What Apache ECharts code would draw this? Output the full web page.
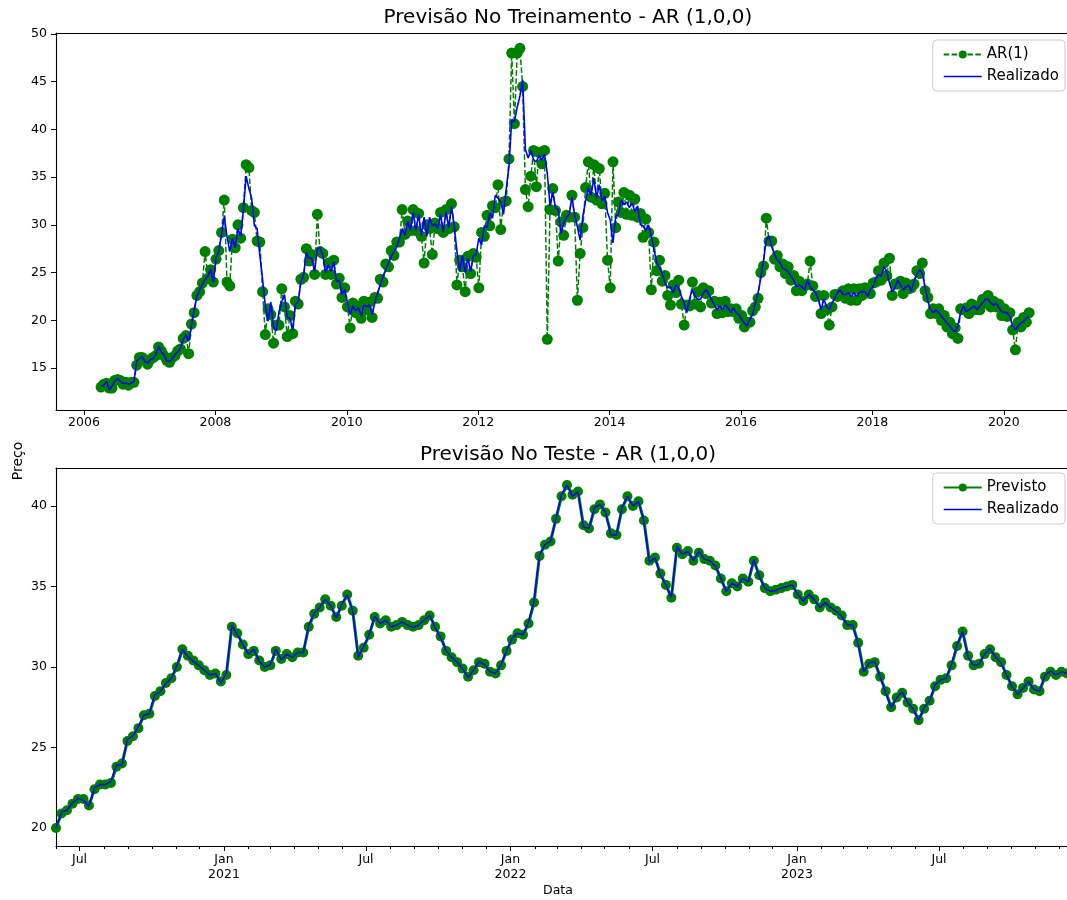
<!DOCTYPE html>
<html>
<head>
<meta charset="utf-8">
<script src="https://cdn.jsdelivr.net/npm/echarts@6.0.0/dist/echarts.min.js"></script>
<style>
  html, body { margin: 0; padding: 0; background: #ffffff; }
  #chart { width: 1067px; height: 900px; }
</style>
</head>
<body>
<div id="chart"></div>
<script>
// ---- Training period: semi-monthly observations, fractional years ----
const TRAIN_START = 2006.26;      // first observation (year)
const TRAIN_STEP = 1 / 24;        // half a month

const trainRealizado = [
  13.1,13.2,13.6,12.7,13.1,13.6,13.9,13.6,13.4,13.4,
  13.3,13.4,13.6,15.7,16.0,16.2,15.7,15.5,15.9,16.0,
  16.4,17.3,16.7,16.4,15.7,15.7,16.0,16.4,16.7,17.1,
  18.0,18.5,17.8,19.4,21.1,22.5,23.2,23.7,24.3,24.6,
  25.4,24.0,26.6,27.2,29.0,30.9,28.8,27.2,28.6,27.6,
  29.6,28.8,31.6,35.1,33.8,32.8,29.9,29.6,26.8,24.3,
  21.5,19.9,21.9,19.3,18.9,20.9,22.0,22.7,20.3,20.2,
  19.0,21.6,22.0,24.0,24.8,27.1,26.5,26.5,25.1,27.5,
  27.6,26.8,25.0,25.8,25.1,26.1,24.1,24.2,22.7,23.2,
  21.8,20.6,21.5,21.0,21.3,20.5,21.6,21.4,21.6,20.6,
  21.8,22.9,23.7,24.6,25.3,26.0,26.7,27.2,27.7,28.6,
  29.6,28.9,30.4,29.4,31.3,29.4,31.1,28.9,30.8,28.8,
  30.8,29.9,30.1,29.6,31.1,29.2,31.4,29.7,31.9,29.9,
  27.2,25.1,26.8,25.0,26.5,25.1,26.8,26.9,28.6,27.9,
  29.9,29.7,31.2,30.7,33.1,32.8,32.4,31.1,33.8,36.1,
  41.0,40.8,42.3,43.5,45.2,37.9,37.0,37.8,36.8,36.6,
  37.3,36.8,37.4,35.4,32.0,33.4,31.8,31.6,29.1,30.2,
  30.8,31.1,32.9,31.0,29.8,28.4,30.9,32.5,33.9,33.1,
  34.9,32.8,34.2,32.5,33.0,31.3,30.5,28.1,30.9,31.1,
  32.6,32.1,32.4,31.8,32.3,31.4,32.0,30.0,29.9,29.4,
  30.0,28.8,27.4,26.0,25.5,24.9,23.9,23.4,23.5,22.9,
  23.7,23.4,22.5,21.8,20.8,22.3,23.2,22.5,22.2,22.2,
  22.9,23.2,22.7,22.2,21.6,21.1,21.5,21.1,21.6,21.3,
  20.8,21.3,20.8,20.6,20.1,19.7,19.4,20.1,20.6,21.8,
  22.9,24.4,26.3,28.4,28.8,27.7,26.9,26.3,26.0,25.5,
  25.3,25.1,24.6,24.2,23.5,23.7,23.5,23.2,24.2,23.5,
  23.2,22.9,22.2,21.1,22.2,21.5,21.1,21.8,22.3,22.9,
  23.2,22.7,22.7,22.9,22.5,22.9,22.5,22.9,23.0,23.0,
  22.5,23.2,23.5,24.4,24.8,24.6,25.6,25.1,23.9,23.0,
  23.4,24.2,23.7,23.2,23.5,23.7,23.0,24.2,24.8,25.3,
  24.9,23.5,22.0,21.1,20.8,21.1,20.8,20.4,20.1,19.7,
  19.4,19.0,18.8,19.5,20.8,21.5,20.9,21.1,21.3,21.5,
  21.1,21.5,21.8,22.2,22.2,21.8,21.6,21.8,21.3,20.9,
  20.8,20.8,20.4,19.4,19.0,19.4,19.7,19.9,20.2,20.4
];

const trainAR1 = [
  13.0,13.3,13.4,12.9,12.9,13.7,13.8,13.7,13.3,13.5,
  13.2,13.5,13.5,15.3,16.1,16.1,15.8,15.4,15.9,16.1,
  16.3,17.2,16.8,16.3,15.8,15.6,16.1,16.3,16.8,17.0,
  18.1,18.4,16.5,19.6,20.8,22.6,23.0,23.9,27.2,24.4,
  25.3,24.0,26.4,27.3,29.2,32.6,24.0,23.6,28.5,27.6,
  30.0,28.6,31.8,36.3,36.0,31.5,31.3,28.3,28.2,23.0,
  18.5,21.2,20.6,17.6,19.5,19.5,23.3,21.4,18.3,20.5,
  18.6,22.0,21.7,24.3,24.5,27.5,26.2,26.9,24.8,31.1,
  27.2,27.0,24.8,26.0,24.8,26.3,23.8,24.4,22.4,23.4,
  21.4,19.2,21.8,20.8,21.5,20.2,22.0,21.1,21.9,20.3,
  22.4,22.3,24.3,24.0,25.9,25.6,27.3,26.8,28.2,28.2,
  31.6,29.0,30.4,29.4,31.6,29.4,31.2,28.8,26.0,30.0,
  29.6,26.9,30.2,29.6,31.3,29.2,31.6,29.6,32.2,29.8,
  23.7,26.3,25.6,23.0,26.7,24.9,27.0,26.6,23.4,29.2,
  28.8,31.0,29.9,32.0,31.8,34.2,29.5,32.4,32.5,36.9,
  48.0,40.6,48.0,48.5,44.5,33.7,31.9,35.1,37.8,34.0,
  37.6,36.4,37.8,18.0,31.6,33.8,31.5,26.2,30.3,28.9,
  31.0,30.8,33.1,30.8,22.1,27.0,29.7,33.9,36.6,32.9,
  36.3,32.6,35.9,32.2,33.3,26.3,23.4,36.6,29.7,32.4,
  31.3,33.4,31.1,33.1,31.0,32.7,30.8,31.2,28.7,30.6,
  29.2,23.2,28.2,25.2,26.3,24.1,24.7,22.6,21.6,23.7,
  22.9,24.2,21.7,19.5,21.6,21.5,24.0,21.7,23.0,21.4,
  23.4,22.8,23.1,21.8,22.0,20.7,21.9,20.8,22.0,20.9,
  21.2,20.9,21.2,20.2,20.5,19.3,19.8,19.8,21.0,21.4,
  22.3,25.0,25.7,30.7,28.3,28.3,26.4,26.8,25.6,25.9,
  24.9,25.6,24.2,24.7,23.1,24.1,23.1,23.6,23.8,26.2,
  23.6,22.5,22.6,20.7,22.6,21.1,19.5,21.4,22.7,22.5,
  22.8,23.1,22.3,23.3,22.1,23.3,22.1,23.3,22.6,23.4,
  22.9,22.8,23.9,24.0,25.2,24.2,26.0,24.7,26.5,22.6,
  23.8,23.8,24.1,22.8,23.9,23.3,23.4,23.8,25.2,24.9,
  26.0,23.1,22.4,20.7,21.2,20.7,21.2,20.0,20.5,19.3,
  19.8,18.6,19.2,18.1,21.2,21.1,21.3,20.7,21.7,21.1,
  21.5,21.1,22.2,21.8,22.6,21.4,22.0,21.4,21.7,20.5,
  21.2,20.4,20.8,19.0,16.9,19.8,19.3,20.3,19.8,20.8
];

const trainYearTicks = [2006, 2008, 2010, 2012, 2014, 2016, 2018, 2020];
const trainPriceTicks = [15, 20, 25, 30, 35, 40, 45, 50];

// ---- Test period: weekly observations starting 2020-06-01 ----
const TEST_START = '2020-06-01';
const TEST_STEP_DAYS = 7;

const testRealizado = [
  20.0,21.0,21.1,21.55,21.85,21.7,21.35,22.5,22.7,22.7,
  22.9,23.9,23.9,25.5,25.7,26.3,27.0,27.1,28.3,28.45,
  29.0,29.3,30.1,31.1,30.65,30.35,30.1,29.8,29.5,29.6,
  29.0,29.6,32.6,32.0,31.4,30.8,31.1,30.35,30.0,30.15,
  31.1,30.45,30.8,30.6,30.9,30.9,32.6,33.35,33.7,34.2,
  33.8,33.05,33.9,34.5,33.45,30.6,31.3,32.0,33.15,32.7,
  32.9,32.5,32.6,32.8,32.6,32.45,32.6,32.9,33.2,32.45,
  31.8,31.0,30.6,30.3,29.9,29.35,29.8,30.35,30.15,29.7,
  29.6,30.15,31.0,31.8,32.1,32.0,32.8,34.1,37.0,37.6,
  37.8,39.25,40.7,41.3,40.6,40.9,38.7,38.6,39.9,40.1,
  39.6,38.2,38.2,39.9,40.6,40.0,40.3,39.05,36.5,36.8,
  35.7,35.1,34.3,37.5,37.0,37.2,36.6,37.2,36.7,36.6,
  36.25,35.5,34.7,35.2,35.0,35.5,35.3,36.7,35.6,34.9,
  34.7,34.75,34.9,35.0,35.1,34.5,34.1,34.5,34.2,33.7,
  34.0,33.7,33.45,33.15,32.6,32.6,31.4,29.7,30.25,30.35,
  29.4,28.4,27.45,28.1,28.45,27.8,27.4,26.7,27.5,27.9,
  28.9,29.2,29.3,30.2,31.4,32.2,30.6,30.1,30.15,30.8,
  31.15,30.6,30.25,29.5,28.8,28.3,28.7,29.1,28.6,28.5,
  29.5,29.75,29.5,29.7,29.6
];

const testPrevisto = [
  20.0,20.9,21.1,21.5,21.8,21.8,21.4,22.4,22.7,22.7,
  22.8,23.8,24.0,25.4,25.7,26.2,27.0,27.1,28.2,28.5,
  29.0,29.3,30.0,31.1,30.7,30.4,30.1,29.8,29.5,29.6,
  29.1,29.5,32.5,32.1,31.4,30.8,31.0,30.4,30.0,30.1,
  31.0,30.5,30.8,30.6,30.9,30.9,32.5,33.3,33.7,34.2,
  33.8,33.1,33.8,34.5,33.5,30.7,31.2,32.0,33.1,32.7,
  32.9,32.5,32.6,32.8,32.6,32.5,32.6,32.9,33.2,32.5,
  31.9,31.0,30.6,30.3,29.9,29.4,29.8,30.3,30.2,29.7,
  29.6,30.1,31.0,31.7,32.1,32.0,32.7,34.0,36.9,37.6,
  37.8,39.2,40.6,41.3,40.7,40.9,38.8,38.6,39.8,40.1,
  39.6,38.3,38.2,39.8,40.6,40.0,40.3,39.1,36.6,36.8,
  35.8,35.1,34.3,37.4,37.0,37.2,36.6,37.1,36.7,36.6,
  36.3,35.5,34.7,35.2,35.0,35.5,35.3,36.6,35.7,34.9,
  34.7,34.8,34.9,35.0,35.1,34.5,34.1,34.5,34.2,33.7,
  34.0,33.7,33.5,33.2,32.6,32.6,31.5,29.7,30.2,30.3,
  29.4,28.5,27.5,28.1,28.4,27.8,27.4,26.7,27.4,27.9,
  28.8,29.2,29.3,30.1,31.3,32.2,30.7,30.1,30.2,30.8,
  31.1,30.6,30.3,29.5,28.8,28.3,28.7,29.1,28.6,28.5,
  29.4,29.7,29.5,29.7,29.6
];

const testPriceTicks = [20, 25, 30, 35, 40];
const monthNames = ['Jan','Feb','Mar','Apr','May','Jun','Jul','Aug','Sep','Oct','Nov','Dec'];

// ---- helpers ----
const DAY_MS = 86400000;
const testStartMs = Date.parse(TEST_START + 'T00:00:00Z');
const TEST_VIEW_DAYS = 1288;   // visible span of the lower axis

const trainX = trainRealizado.map((_, i) => TRAIN_START + i * TRAIN_STEP);
const testX = testRealizado.map((_, i) => i * TEST_STEP_DAYS);
const pairs = (xs, ys) => ys.map((v, i) => [xs[i], v]);

const monthTicks = [];
const halfYearTicks = [];
for (let y = 2020; y <= 2023; y++) {
  for (let m = 0; m < 12; m++) {
    const d = (Date.UTC(y, m, 1) - testStartMs) / DAY_MS;
    if (d < 0 || d > TEST_VIEW_DAYS) continue;
    monthTicks.push(d);
    if (m === 0 || m === 6) halfYearTicks.push(d);
  }
}
function monthLabel(d) {
  const dt = new Date(testStartMs + Math.round(d) * DAY_MS);
  const m = dt.getUTCMonth();
  return m === 0 ? 'Jan\n' + dt.getUTCFullYear() : monthNames[m];
}

const FONT = 'DejaVu Sans';
const INK = '#000000';
const GREEN = '#008000';
const BLUE = '#0000ff';
const tickText = { fontFamily: FONT, fontSize: 12.5, color: INK };
// plain solid stroke used as the legend key of the "Realizado" lines
const LINE_ICON = 'path://M0,0 L38,0 L38,1.6 L0,1.6 Z';

function frameAxis(gridIndex) {
  return {
    type: 'value', gridIndex, position: 'top', min: 0, max: 1,
    axisLine: { show: true, onZero: false, lineStyle: { color: INK, width: 1.1 } },
    axisTick: { show: false }, axisLabel: { show: false }, splitLine: { show: false }
  };
}

const legendBox = {
  orient: 'vertical', right: 2, itemWidth: 38, itemHeight: 10, itemGap: 7,
  padding: [7, 6, 7, 10], borderColor: '#cccccc', borderWidth: 1, borderRadius: 4,
  backgroundColor: 'rgba(255,255,255,0.85)',
  textStyle: { fontFamily: FONT, fontSize: 15, color: INK },
  selectedMode: false
};

const chart = echarts.init(document.getElementById('chart'), null, { renderer: 'canvas' });
chart.setOption({
  animation: false,
  backgroundColor: '#ffffff',
  grid: [
    { left: 56, top: 33, width: 1011, height: 377 },
    { left: 56, top: 468, width: 1011, height: 378 }
  ],
  xAxis: [
    {
      type: 'value', gridIndex: 0, position: 'bottom', min: 2005.574, max: 2020.962,
      axisLine: { show: true, onZero: false, lineStyle: { color: INK, width: 1.1 } },
      axisTick: { show: true, length: 5, lineStyle: { color: INK }, customValues: trainYearTicks },
      axisLabel: { show: true, margin: 6, customValues: trainYearTicks, formatter: v => String(Math.round(v)), ...tickText },
      splitLine: { show: false }
    },
    frameAxis(0),
    {
      type: 'value', gridIndex: 1, position: 'bottom', min: 0, max: TEST_VIEW_DAYS,
      axisLine: { show: true, onZero: false, lineStyle: { color: INK, width: 1.1 } },
      axisTick: { show: true, length: 3, lineStyle: { color: INK }, customValues: monthTicks },
      axisLabel: { show: false },
      splitLine: { show: false }
    },
    {
      type: 'value', gridIndex: 1, position: 'bottom', min: 0, max: TEST_VIEW_DAYS,
      axisLine: { show: false, onZero: false },
      axisTick: { show: true, length: 5, lineStyle: { color: INK }, customValues: halfYearTicks },
      axisLabel: { show: true, margin: 6, lineHeight: 15, customValues: halfYearTicks, formatter: monthLabel, ...tickText },
      splitLine: { show: false }
    },
    frameAxis(1)
  ],
  yAxis: [
    {
      type: 'value', gridIndex: 0, min: 10.6, max: 50.1,
      axisLine: { show: true, onZero: false, lineStyle: { color: INK, width: 1.1 } },
      axisTick: { show: true, length: 5, lineStyle: { color: INK }, customValues: trainPriceTicks },
      axisLabel: { show: true, margin: 9, customValues: trainPriceTicks, ...tickText },
      splitLine: { show: false }
    },
    {
      type: 'value', gridIndex: 1, min: 18.88, max: 42.36,
      axisLine: { show: true, onZero: false, lineStyle: { color: INK, width: 1.1 } },
      axisTick: { show: true, length: 5, lineStyle: { color: INK }, customValues: testPriceTicks },
      axisLabel: { show: true, margin: 9, customValues: testPriceTicks, ...tickText },
      splitLine: { show: false }
    }
  ],
  legend: [
    Object.assign({}, legendBox, { top: 40, data: ['AR(1)', { name: 'Realizado', icon: LINE_ICON }] }),
    Object.assign({}, legendBox, { top: 473, data: ['Previsto', { name: 'Realizado', icon: LINE_ICON }] })
  ],
  graphic: [
    { type: 'text', x: 568, y: 18, style: { text: 'Previsão No Treinamento - AR (1,0,0)', font: '20px "DejaVu Sans"', fill: INK, textAlign: 'center', textVerticalAlign: 'middle' } },
    { type: 'text', x: 568, y: 455, style: { text: 'Previsão No Teste - AR (1,0,0)', font: '20px "DejaVu Sans"', fill: INK, textAlign: 'center', textVerticalAlign: 'middle' } },
    { type: 'text', x: 18, y: 461, rotation: Math.PI / 2, style: { text: 'Preço', font: '14px "DejaVu Sans"', fill: INK, textAlign: 'center', textVerticalAlign: 'middle' } },
    { type: 'text', x: 558, y: 891, style: { text: 'Data', font: '12.5px "DejaVu Sans"', fill: INK, textAlign: 'center', textVerticalAlign: 'middle' } }
  ],
  series: [
    {
      name: 'AR(1)', type: 'line', xAxisIndex: 0, yAxisIndex: 0,
      data: pairs(trainX, trainAR1),
      symbol: 'circle', symbolSize: 11, showSymbol: true, showAllSymbol: true,
      itemStyle: { color: GREEN },
      lineStyle: { color: GREEN, width: 1.5, type: [5.5, 2.4] },
      z: 2, silent: true
    },
    {
      name: 'Realizado', type: 'line', xAxisIndex: 0, yAxisIndex: 0,
      data: pairs(trainX, trainRealizado),
      symbol: 'none', showSymbol: false,
      itemStyle: { color: BLUE },
      lineStyle: { color: BLUE, width: 1.6 },
      z: 3, silent: true
    },
    {
      name: 'Previsto', type: 'line', xAxisIndex: 2, yAxisIndex: 1,
      data: pairs(testX, testPrevisto),
      symbol: 'circle', symbolSize: 10, showSymbol: true, showAllSymbol: true,
      itemStyle: { color: GREEN },
      lineStyle: { color: GREEN, width: 3 },
      z: 2, silent: true
    },
    {
      name: 'Realizado', type: 'line', xAxisIndex: 2, yAxisIndex: 1,
      data: pairs(testX, testRealizado),
      symbol: 'none', showSymbol: false,
      itemStyle: { color: BLUE },
      lineStyle: { color: BLUE, width: 1.5 },
      z: 3, silent: true
    }
  ]
});
</script>
</body>
</html>
